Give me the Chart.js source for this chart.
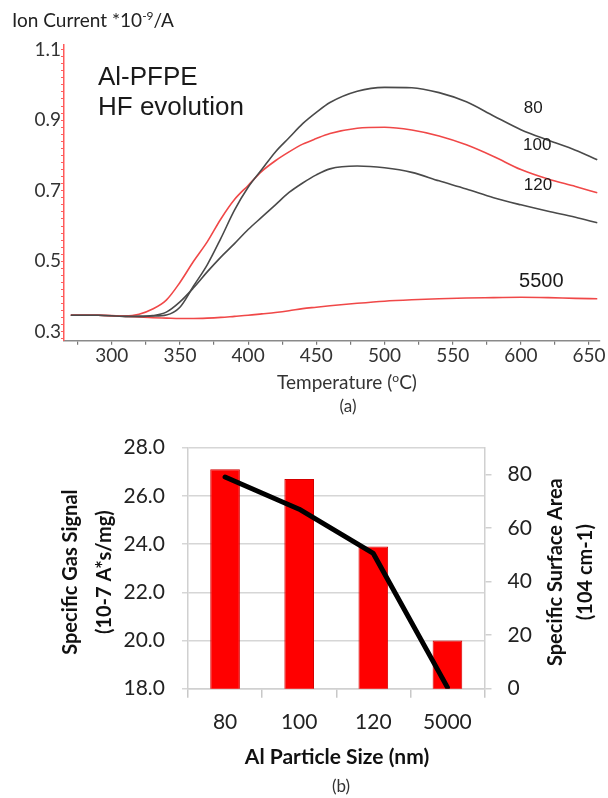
<!DOCTYPE html>
<html><head><meta charset="utf-8">
<script src="https://cdn.jsdelivr.net/npm/chart.js@4.4.1/dist/chart.umd.min.js"></script>
<style>
html,body{margin:0;padding:0;background:#fff;}
#wrap{position:relative;width:608px;height:798px;overflow:hidden;background:#fff;}
canvas{position:absolute;left:0;}
</style></head><body>
<div id="wrap">
<canvas id="ca" width="608" height="418" style="top:0px"></canvas>
<canvas id="cb" width="608" height="380" style="top:418px"></canvas>
</div>
<script>
// ---------- Data: chart (a) ----------
const temperatures = [270, 290, 310, 320, 330, 340, 350, 360, 370, 380, 390, 400, 410, 420, 430, 440, 450, 460, 480, 500, 520, 540, 560, 580, 600, 620, 640, 656];
const hf80   = [0.347,0.347,0.344,0.344,0.345,0.348,0.370,0.430,0.490,0.565,0.645,0.710,0.760,0.810,0.850,0.890,0.922,0.950,0.982,0.993,0.992,0.978,0.952,0.912,0.873,0.843,0.815,0.788];
const hf100  = [0.347,0.347,0.345,0.350,0.365,0.390,0.440,0.500,0.555,0.620,0.675,0.715,0.755,0.785,0.810,0.832,0.848,0.862,0.877,0.880,0.872,0.855,0.830,0.797,0.760,0.733,0.712,0.694];
const hf120  = [0.347,0.347,0.344,0.344,0.346,0.356,0.385,0.425,0.470,0.512,0.550,0.590,0.625,0.660,0.695,0.722,0.745,0.762,0.770,0.765,0.752,0.728,0.705,0.680,0.660,0.642,0.625,0.609];
const hf5500 = [0.347,0.347,0.344,0.342,0.340,0.339,0.338,0.338,0.339,0.341,0.344,0.347,0.351,0.355,0.360,0.366,0.370,0.374,0.381,0.387,0.391,0.394,0.396,0.397,0.398,0.397,0.395,0.394];
const seriesNames = ['80', '100', '120', '5500'];
const tempTicks = [300, 350, 400, 450, 500, 550, 600, 650];
const ionTicks = [0.3, 0.5, 0.7, 0.9, 1.1];

// ---------- Data: chart (b) ----------
const particleSizes = ['80', '100', '120', '5000'];
const gasSignal = [27.1, 26.7, 23.9, 20.0];
const surfaceArea = [79, 67, 50.5, 0.5];
const gasTicks = [18, 20, 22, 24, 26, 28];
const areaTicks = [0, 20, 40, 60, 80];

const CAL = 'Lato, "Open Sans", sans-serif';
const ARI = '"Liberation Sans", Arial, sans-serif';

function pts(arr){ return temperatures.map((t,i)=>({x:t, y:arr[i]})); }

function drawRich(ctx, parts, x, y, align){
  let w = 0;
  parts.forEach(p=>{ ctx.font = p.font; w += ctx.measureText(p.t).width; });
  let cx = align === 'center' ? x - w/2 : x;
  ctx.textAlign = 'left';
  parts.forEach(p=>{ ctx.font = p.font; ctx.fillText(p.t, cx, y + (p.dy||0)); cx += ctx.measureText(p.t).width; });
}

const textA = {
  id: 'textA',
  afterDraw(chart){
    const ctx = chart.ctx, xs = chart.scales.x, ys = chart.scales.y;
    ctx.save();
    ctx.fillStyle = '#222';
    ctx.textBaseline = 'alphabetic';
    drawRich(ctx, [
      {t:'Ion Current *10', font:'19px '+CAL},
      {t:'-9', font:'12px '+CAL, dy:-7},
      {t:'/A', font:'19px '+CAL}
    ], 12, 27, 'left');
    ctx.fillStyle = '#1a1a1a';
    ctx.font = '26px '+ARI;
    ctx.textAlign = 'left';
    ctx.fillText('Al-PFPE', 98, 85);
    ctx.fillText('HF evolution', 98, 115);
    const anchors = [[609, 0.933, 17], [612, 0.828, 17], [612.5, 0.714, 17], [615, 0.442, 20]];
    ctx.textAlign = 'center'; ctx.textBaseline = 'middle';
    anchors.forEach((a,i)=>{
      ctx.font = a[2]+'px '+ARI;
      ctx.fillText(seriesNames[i], xs.getPixelForValue(a[0]), ys.getPixelForValue(a[1]));
    });
    ctx.fillStyle = '#333';
    ctx.textBaseline = 'alphabetic';
    drawRich(ctx, [
      {t:'Temperature (', font:'19px '+CAL},
      {t:'o', font:'12px '+CAL, dy:-7},
      {t:'C)', font:'19px '+CAL}
    ], 347, 389, 'center');
    ctx.font = '17px '+CAL;
    ctx.textAlign = 'center';
    ctx.fillText('(a)', 348, 412);
    ctx.restore();
  }
};

new Chart(document.getElementById('ca'), {
  type: 'line',
  data: {
    datasets: [
      {label:'80', data: pts(hf80), borderColor:'#4a4a4a', borderWidth:1.6},
      {label:'100', data: pts(hf100), borderColor:'#f04848', borderWidth:1.6},
      {label:'120', data: pts(hf120), borderColor:'#4a4a4a', borderWidth:1.6},
      {label:'5500', data: pts(hf5500), borderColor:'#f04848', borderWidth:1.6}
    ]
  },
  options: {
    responsive: false, animation: false, devicePixelRatio: 1,
    layout: {padding: {top: 45, right: 8, left: 0, bottom: 0}},
    elements: {point: {radius: 0}, line: {tension: 0.4, cubicInterpolationMode: 'monotone', fill: false}},
    plugins: {legend: {display: false}, tooltip: {enabled: false}},
    scales: {
      x: {
        type: 'linear', min: 265, max: 658,
        afterBuildTicks: s => { s.ticks = []; for (let v = 275; v <= 650; v += 25) s.ticks.push({value: v}); },
        ticks: {autoSkip: false, maxRotation: 0, color: '#333', font: {family: 'Lato', size: 19}, padding: 0,
          callback: v => tempTicks.includes(v) ? String(v) : ''},
        grid: {drawOnChartArea: false, tickLength: 4, color: '#777', lineWidth: 1.2},
        border: {color: '#8a8a8a', width: 1.5},
        afterFit: s => { s.height = 77.3; }
      },
      y: {
        min: 0.275, max: 1.113,
        afterBuildTicks: s => { s.ticks = []; for (let i = 14; i <= 55; i++) s.ticks.push({value: i/50}); },
        ticks: {autoSkip: false, color: '#333', font: {family: 'Lato', size: 19}, padding: 0,
          callback: v => { const hit = ionTicks.find(t => Math.abs(t - v) < 1e-6); return hit !== undefined ? hit.toFixed(1) : ''; }},
        grid: {drawOnChartArea: false, tickLength: 3, color: '#ff6060', lineWidth: 1},
        border: {color: '#ff5a5a', width: 1.5},
        afterFit: s => { s.width = 64; }
      }
    }
  },
  plugins: [textA]
});

const textB = {
  id: 'textB',
  afterDraw(chart){
    const ctx = chart.ctx, ca = chart.chartArea;
    const cy = (ca.top + ca.bottom)/2 + 4;
    ctx.save();
    ctx.fillStyle = '#111';
    ctx.textAlign = 'center'; ctx.textBaseline = 'middle';
    ctx.font = 'bold 20px '+CAL;
    const rot = (txt, x) => { ctx.save(); ctx.translate(x, cy); ctx.rotate(-Math.PI/2); ctx.fillText(txt, 0, 0); ctx.restore(); };
    rot('Specific Gas Signal', 71);
    rot('(10-7 A*s/mg)', 105);
    rot('Specific Surface Area', 556);
    rot('(104 cm-1)', 586);
    ctx.font = 'bold 21px '+CAL;
    ctx.fillText('Al Particle Size (nm)', 337, 339);
    ctx.font = '17px '+CAL;
    ctx.fillStyle = '#333';
    ctx.fillText('(b)', 341, 369);
    ctx.restore();
  }
};

new Chart(document.getElementById('cb'), {
  data: {
    labels: particleSizes,
    datasets: [
      {type: 'line', label: 'Specific Surface Area', data: surfaceArea, yAxisID: 'y2', borderColor: '#000', borderWidth: 5,
        pointRadius: 0, tension: 0, borderCapStyle: 'round', borderJoinStyle: 'round', order: 0},
      {type: 'bar', label: 'Specific Gas Signal', data: gasSignal, yAxisID: 'y', backgroundColor: '#ff0000',
        borderColor: '#d40000', borderWidth: 1, barPercentage: 0.4, categoryPercentage: 1.0, order: 1}
    ]
  },
  options: {
    responsive: false, animation: false, devicePixelRatio: 1,
    layout: {padding: {top: 18.3, right: 0, left: 0, bottom: 0}},
    plugins: {legend: {display: false}, tooltip: {enabled: false}},
    scales: {
      x: {
        ticks: {color: '#222', font: {family: 'Lato', size: 21}, padding: 12, maxRotation: 0},
        grid: {offset: true, drawOnChartArea: false, tickLength: 9, color: '#c8c8c8', lineWidth: 1.5},
        border: {color: '#d0d0d0', width: 1.5},
        afterFit: s => { s.height = 109.3; }
      },
      y: {
        position: 'left', min: 18, max: 28,
        afterBuildTicks: s => { s.ticks = gasTicks.map(v => ({value: v})); },
        ticks: {color: '#222', font: {family: 'Lato', size: 21}, padding: 17, callback: v => v.toFixed(1)},
        grid: {color: '#d6d6d6', lineWidth: 1.5, tickLength: 6},
        border: {color: '#d0d0d0', width: 1.5},
        afterFit: s => { s.width = 188; }
      },
      y2: {
        position: 'right', min: 0, max: 90,
        afterBuildTicks: s => { s.ticks = areaTicks.map(v => ({value: v})); },
        ticks: {color: '#222', font: {family: 'Lato', size: 21}, padding: 16},
        grid: {drawOnChartArea: false, tickLength: 7, color: '#d0d0d0', lineWidth: 1.5},
        border: {color: '#d0d0d0', width: 1.5},
        afterFit: s => { s.width = 123.5; }
      }
    }
  },
  plugins: [textB]
});
</script>
</body></html>
